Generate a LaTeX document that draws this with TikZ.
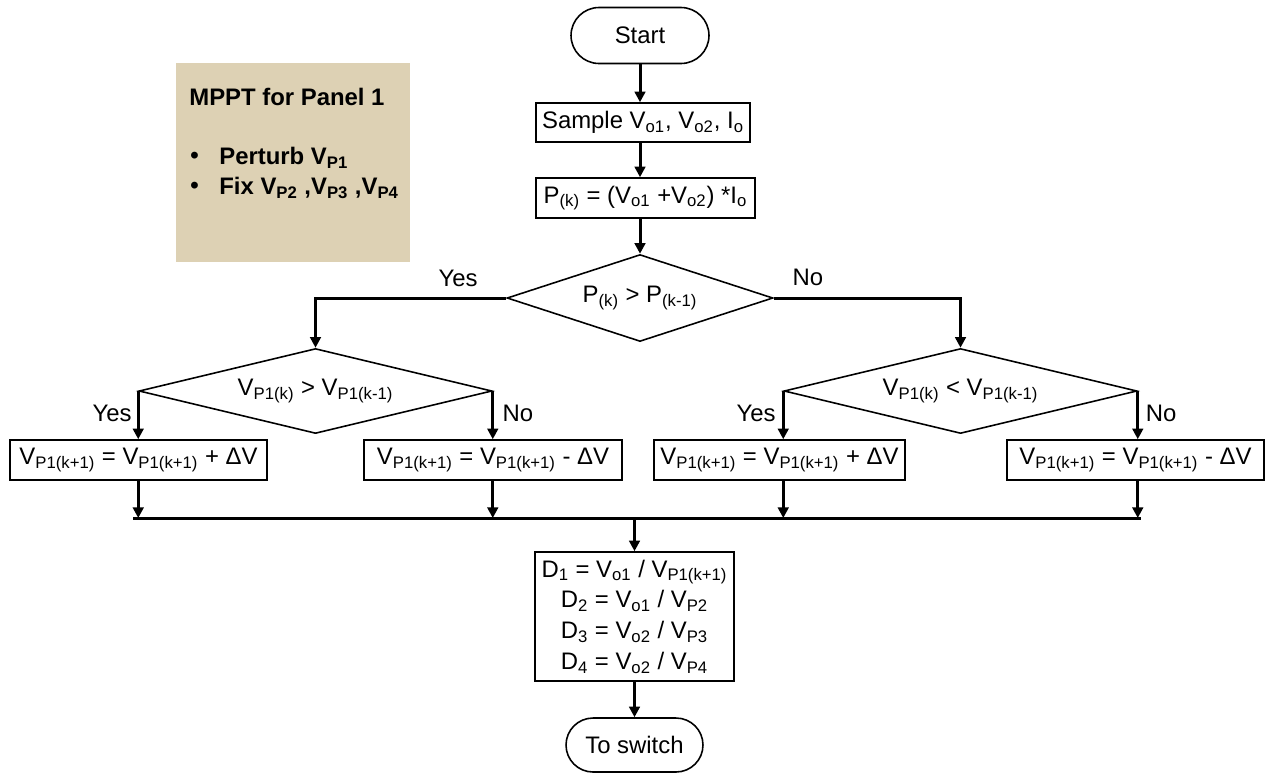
\documentclass[tikz,border=0pt]{standalone}
\usepackage{fontspec}
\setmainfont{Liberation Sans}
\usetikzlibrary{arrows.meta,shapes.geometric,shapes.misc}
\newcommand{\sbs}[1]{\textsubscript{#1}}
\definecolor{notefill}{RGB}{221,209,180}

\begin{document}
\begin{tikzpicture}[x=0.02cm,y=-0.02cm,
  every node/.style={font=\fontsize{13.6}{17.5}\selectfont},
  procbox/.style={draw, line width=0.9pt, rectangle, inner sep=0pt},
  termbox/.style={draw, line width=0.9pt, rounded rectangle, inner sep=0pt},
  decbox/.style={draw, line width=0.9pt, diamond, aspect=4, inner sep=0pt},
  flow/.style={line width=1.7pt, -{Triangle[length=6pt,width=6pt]}},
  busline/.style={line width=1.7pt},
  lbl/.style={inner sep=0pt},
  notetext/.style={inner sep=0pt, anchor=west, font=\fontsize{13.6}{16}\selectfont\bfseries}
]
\useasboundingbox (0,0) rectangle (1266,772);

% note box
\node[fill=notefill, minimum width=4.68cm, minimum height=3.98cm, inner sep=0pt] (note) at (293,162.5) {};
\node[notetext] (notetitle) at (189,97) {MPPT for Panel 1};
\node[notetext] (bul1) at (190,158) {•};
\node[notetext] (item1) at (219,158) {Perturb V\sbs{P1}};
\node[notetext] (bul2) at (190,188) {•};
\node[notetext] (item2) at (219,188) {Fix V\sbs{P2} ,V\sbs{P3} ,V\sbs{P4}};

% main column
\node[termbox, minimum width=2.76cm, minimum height=1.12cm] (start) at (640,35.5) {Start};
\node[procbox, minimum width=4.28cm, minimum height=0.78cm] (sample) at (643,122.5) {Sample V\sbs{o1}, V\sbs{o2}, I\sbs{o}};
\node[procbox, minimum width=4.38cm, minimum height=0.8cm] (pk) at (645.5,198) {P\sbs{(k)} = (V\sbs{o1} +V\sbs{o2}) *I\sbs{o}};
\node[decbox, minimum width=5.32cm, minimum height=1.74cm] (d0) at (640,298) {P\sbs{(k)} > P\sbs{(k-1)}};

% decisions on the voltage step
\node[decbox, minimum width=7.06cm, minimum height=1.70cm] (d1) at (315.5,391) {V\sbs{P1(k)} > V\sbs{P1(k-1)}};
\node[decbox, minimum width=7.06cm, minimum height=1.70cm] (d2) at (960.5,391) {V\sbs{P1(k)} < V\sbs{P1(k-1)}};

% voltage updates
\node[procbox, minimum width=5.14cm, minimum height=0.8cm] (b1) at (138.5,460) {V\sbs{P1(k+1)} = V\sbs{P1(k+1)} + ΔV};
\node[procbox, minimum width=5.16cm, minimum height=0.8cm] (b2) at (493,460) {V\sbs{P1(k+1)} = V\sbs{P1(k+1)} - ΔV};
\node[procbox, minimum width=5.02cm, minimum height=0.8cm] (b3) at (779.5,460) {V\sbs{P1(k+1)} = V\sbs{P1(k+1)} + ΔV};
\node[procbox, minimum width=5.14cm, minimum height=0.8cm] (b4) at (1135.5,460) {V\sbs{P1(k+1)} = V\sbs{P1(k+1)} - ΔV};

% duty cycles and end
\node[procbox, minimum width=3.98cm, minimum height=2.58cm, align=center] (dbox) at (634.5,616.5)
  {D\sbs{1} = V\sbs{o1} / V\sbs{P1(k+1)}\\ D\sbs{2} = V\sbs{o1} / V\sbs{P2}\\ D\sbs{3} = V\sbs{o2} / V\sbs{P3}\\ D\sbs{4} = V\sbs{o2} / V\sbs{P4}};
\node[termbox, minimum width=2.74cm, minimum height=1.08cm] (tosw) at (634.5,745) {To switch};

% bus ends
\coordinate (busL) at (133,518);
\coordinate (busR) at (1141,518);

% connectors
\draw[flow] (start.south) -- (start.south |- sample.north);
\draw[flow] (sample.south -| start.south) -- (start.south |- pk.north);
\draw[flow] (pk.south -| start.south) -- (d0.north);
\draw[flow] (d0.west) -| (d1.north);
\draw[flow] (d0.east) -| (d2.north);
\draw[flow] (d1.west) -- (d1.west |- b1.north);
\draw[flow] (d1.east) -- (d1.east |- b2.north);
\draw[flow] (d2.west) -- (d2.west |- b3.north);
\draw[flow] (d2.east) -- (d2.east |- b4.north);
\draw[flow] (b1.south -| d1.west) -- (d1.west |- busL);
\draw[flow] (b2.south -| d1.east) -- (d1.east |- busL);
\draw[flow] (b3.south -| d2.west) -- (d2.west |- busL);
\draw[flow] (b4.south -| d2.east) -- (d2.east |- busL);
\draw[busline] (busL) -- (busR);
\draw[flow] (dbox.north |- busL) -- (dbox.north);
\draw[flow] (dbox.south) -- (tosw.north);

% branch labels
\node[lbl] (y0) at (458,278) {Yes};
\node[lbl] (n0) at (808,277) {No};
\node[lbl] (y1) at (112,413) {Yes};
\node[lbl] (n1) at (518,413) {No};
\node[lbl] (y2) at (756,413) {Yes};
\node[lbl] (n2) at (1161,413) {No};
\end{tikzpicture}
\end{document}
